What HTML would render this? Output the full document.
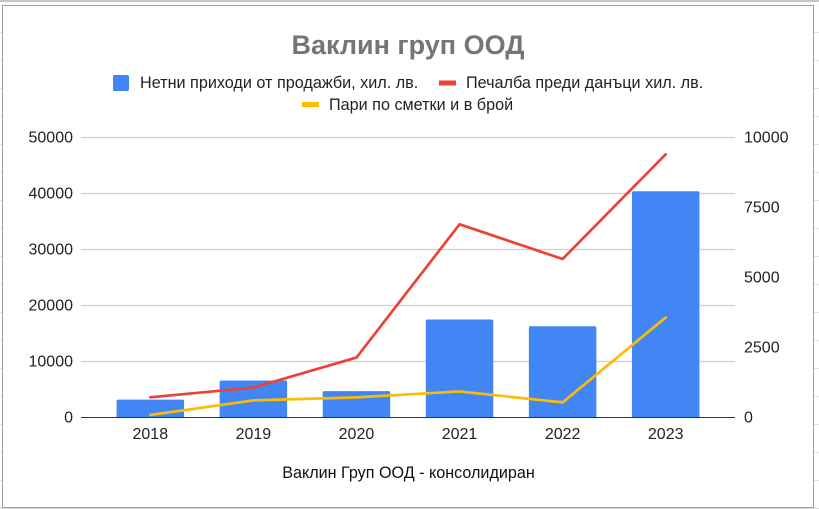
<!DOCTYPE html>
<html lang="bg">
<head>
<meta charset="utf-8">
<title>Ваклин груп ООД</title>
<style>
html,body{margin:0;padding:0;width:819px;height:509px;overflow:hidden;background:#fff;}
svg{display:block;font-family:"Liberation Sans",Arial,sans-serif;}
</style>
</head>
<body>
<svg id="chart" width="819" height="509" viewBox="0 0 819 509" xmlns="http://www.w3.org/2000/svg">
  <g id="sheet" stroke="#e2e3e3" stroke-width="1" shape-rendering="crispEdges"></g>
  <rect x="2.5" y="5.5" width="811" height="502" fill="#ffffff" stroke="#9e9e9e" stroke-width="1"></rect>
  <text x="408" y="54" text-anchor="middle" font-size="27" font-weight="700" fill="#757575">Ваклин груп ООД</text>

  <g font-size="16.2" fill="#222222">
    <g>
      <rect x="113" y="75" width="16" height="16" rx="1.5" fill="#4285f4"></rect>
      <text x="140" y="88">Нетни приходи от продажби, хил. лв.</text>
    </g>
    <g>
      <rect x="439" y="80.5" width="17" height="5" fill="#ea4335"></rect>
      <text x="466" y="88">Печалба преди данъци хил. лв.</text>
    </g>
    <g>
      <rect x="302" y="102" width="17" height="5" fill="#fbbc04"></rect>
      <text x="329" y="110">Пари по сметки и в брой</text>
    </g>
  </g>

  <g id="grid"></g>
  <g id="bars"></g>
  <line x1="81" x2="735" y1="417.5" y2="417.5" stroke="#333333" stroke-width="1"></line>
  <polyline id="profit-line" fill="none" stroke="#ea4335" stroke-width="2.7" stroke-linejoin="round" stroke-linecap="round"></polyline>
  <polyline id="cash-line" fill="none" stroke="#fbbc04" stroke-width="2.7" stroke-linejoin="round" stroke-linecap="round"></polyline>
  <g id="left-ticks" font-size="16" fill="#222222" text-anchor="end"></g>
  <g id="right-ticks" font-size="16" fill="#222222" text-anchor="start"></g>
  <g id="x-ticks" font-size="16" fill="#222222" text-anchor="middle"></g>
  <text x="408.5" y="478" text-anchor="middle" font-size="16.15" fill="#111111">Ваклин Груп ООД - консолидиран</text>
</svg>
<script>
const categories = ["2018", "2019", "2020", "2021", "2022", "2023"];
const revenueValues = [3200, 6600, 4700, 17500, 16300, 40400];
const profitValues = [720, 1070, 2140, 6900, 5660, 9400];
const cashValues = [90, 610, 720, 930, 540, 3570];
const leftTicks = [0, 10000, 20000, 30000, 40000, 50000];
const rightTicks = [0, 2500, 5000, 7500, 10000];

const NS = "http://www.w3.org/2000/svg";
const plotBottom = 417.5;
const plotTop = 137.5;
const leftMax = leftTicks[leftTicks.length - 1];
const rightMax = rightTicks[rightTicks.length - 1];
const firstCenter = 150.3;
const lastCenter = 665.7;
const barWidth = 67.5;

function xCenter(i) {
  return firstCenter + i * (lastCenter - firstCenter) / (categories.length - 1);
}
function yLeft(v) {
  return plotBottom - (v / leftMax) * (plotBottom - plotTop);
}
function yRight(v) {
  return plotBottom - (v / rightMax) * (plotBottom - plotTop);
}

const sheet = document.getElementById("sheet");
for (let y = 32.5; y < 509; y += 28) {
  const hl = document.createElementNS(NS, "line");
  
  
  hl.setAttribute("x1", 0);
  hl.setAttribute("x2", 819);
  hl.setAttribute("y1", y);
  hl.setAttribute("y2", y);
  sheet.appendChild(hl);
}
const topRule = document.createElementNS(NS, "rect");


topRule.setAttribute("x", 0);
topRule.setAttribute("y", 0);
topRule.setAttribute("width", 819);
topRule.setAttribute("height", 2);
topRule.setAttribute("fill", "#c8c8c8");
topRule.setAttribute("stroke", "none");
sheet.appendChild(topRule);
const bottomRule = document.createElementNS(NS, "rect");


bottomRule.setAttribute("x", 0);
bottomRule.setAttribute("y", 508);
bottomRule.setAttribute("width", 819);
bottomRule.setAttribute("height", 1);
bottomRule.setAttribute("fill", "#d8d8d8");
bottomRule.setAttribute("stroke", "none");
sheet.appendChild(bottomRule);

const grid = document.getElementById("grid");
leftTicks.forEach(function (t) {
  if (t === 0) return;
  const gl = document.createElementNS(NS, "line");
  
  
  gl.setAttribute("x1", 81);
  gl.setAttribute("x2", 735);
  gl.setAttribute("y1", yLeft(t));
  gl.setAttribute("y2", yLeft(t));
  gl.setAttribute("stroke", "#d0d0d0");
  gl.setAttribute("stroke-width", 1.2);
  grid.appendChild(gl);
});

const bars = document.getElementById("bars");
revenueValues.forEach(function (v, i) {
  const top = yLeft(v);
  const r = 1.5;
  const x0 = xCenter(i) - barWidth / 2;
  const x1 = xCenter(i) + barWidth / 2;
  const bar = document.createElementNS(NS, "path");
  
  
  bar.setAttribute("d", "M" + x0 + " " + plotBottom + "V" + (top + r) + "Q" + x0 + " " + top + " " + (x0 + r) + " " + top + "H" + (x1 - r) + "Q" + x1 + " " + top + " " + x1 + " " + (top + r) + "V" + plotBottom + "Z");
  bar.setAttribute("fill", "#4285f4");
  bars.appendChild(bar);
});

document.getElementById("profit-line").setAttribute("points", profitValues.map(function (v, i) {
  return xCenter(i) + "," + yRight(v);
}).join(" "));
document.getElementById("cash-line").setAttribute("points", cashValues.map(function (v, i) {
  return xCenter(i) + "," + yRight(v);
}).join(" "));

const leftGroup = document.getElementById("left-ticks");
leftTicks.forEach(function (t) {
  const lt = document.createElementNS(NS, "text");
  
  
  lt.setAttribute("x", 73);
  lt.setAttribute("y", yLeft(t) + 5);
  lt.textContent = String(t);
  leftGroup.appendChild(lt);
});

const rightGroup = document.getElementById("right-ticks");
rightTicks.forEach(function (t) {
  const rt = document.createElementNS(NS, "text");
  
  
  rt.setAttribute("x", 744);
  rt.setAttribute("y", yRight(t) + 5);
  rt.textContent = String(t);
  rightGroup.appendChild(rt);
});

const xGroup = document.getElementById("x-ticks");
categories.forEach(function (c, i) {
  const xt = document.createElementNS(NS, "text");
  
  
  xt.setAttribute("x", xCenter(i));
  xt.setAttribute("y", 439);
  xt.textContent = c;
  xGroup.appendChild(xt);
});
</script>
</body>
</html>
